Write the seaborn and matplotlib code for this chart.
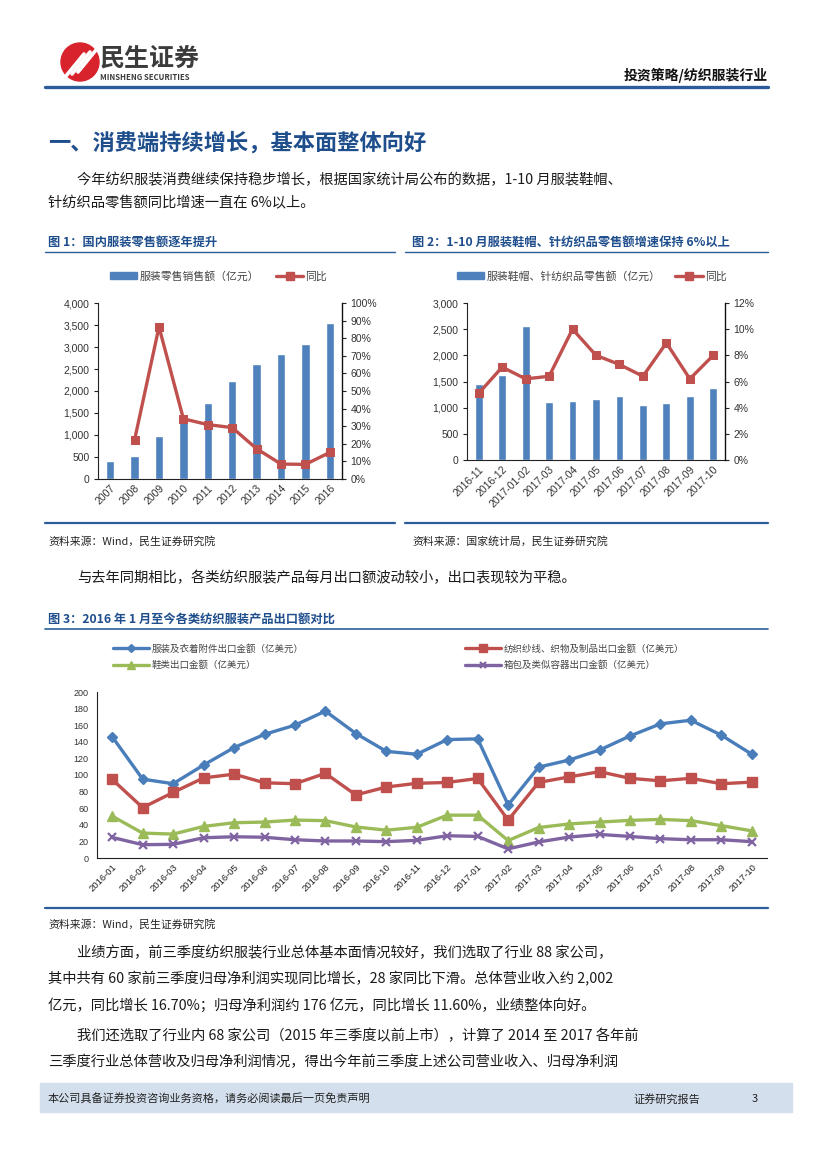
import numpy as np
import pandas as pd
import matplotlib
matplotlib.use('Agg')
import matplotlib.pyplot as plt
import seaborn as sns
from matplotlib.patches import Rectangle, Circle, Patch
from matplotlib.lines import Line2D
from matplotlib.ticker import FuncFormatter, MultipleLocator

# ---------------- data ----------------
years = ['2007', '2008', '2009', '2010', '2011', '2012', '2013', '2014', '2015', '2016']
retail_sales = [415, 528, 981, 1343, 1736, 2234, 2611, 2838, 3064, 3547]
retail_yoy = [np.nan, 22.3, 86.4, 34.2, 30.9, 29.2, 17.2, 8.5, 8.3, 15.1]

months2 = ['2016-11', '2016-12', '2017-01-02', '2017-03', '2017-04', '2017-05',
           '2017-06', '2017-07', '2017-08', '2017-09', '2017-10']
retail2 = [1460, 1630, 2570, 1100, 1120, 1160, 1230, 1060, 1080, 1230, 1385]
yoy2 = [5.1, 7.1, 6.2, 6.4, 10.0, 8.0, 7.3, 6.4, 8.95, 6.2, 8.0]

months3 = ['2016-01', '2016-02', '2016-03', '2016-04', '2016-05', '2016-06', '2016-07',
           '2016-08', '2016-09', '2016-10', '2016-11', '2016-12', '2017-01', '2017-02',
           '2017-03', '2017-04', '2017-05', '2017-06', '2017-07', '2017-08', '2017-09',
           '2017-10']
clothing = [146, 95, 89.5, 112, 133, 149, 160, 177, 150, 128.5, 125, 142.7, 143.5, 64,
            109.5, 118, 130, 147, 161.6, 166, 148, 125]
textile = [94.6, 60.7, 79, 96.5, 101, 90.6, 89.5, 102, 76, 85.5, 90, 91, 95.8, 45.7,
           91, 97.7, 104, 96, 93, 96, 89.5, 91.4]
shoes = [50.4, 30, 28.8, 38, 42.5, 43.3, 45.7, 45, 37.4, 33.5, 37, 51.6, 51.6, 21,
         36.7, 41, 43.3, 45.3, 46.5, 45, 39, 32.7]
bags = [24.8, 16, 16.5, 24.4, 25.6, 25, 22, 20.5, 20.5, 19.7, 21.3, 26.8, 26, 11,
        19.3, 25.2, 28.4, 26, 23.3, 22, 22, 19.7]
series3_names = ['服装及衣着附件出口金额（亿美元）', '纺织纱线、织物及制品出口金额（亿美元）',
                 '鞋类出口金额（亿美元）', '箱包及类似容器出口金额（亿美元）']

# ---------------- style ----------------
sns.set_style('white')
CJK = ['Noto Sans CJK SC', 'DejaVu Sans']
plt.rcParams['font.family'] = CJK
plt.rcParams['axes.unicode_minus'] = False
TICKF = ['Liberation Sans', 'DejaVu Sans']

BAR = '#4F81BD'
RED = '#C0504D'
BLUE3 = '#4A7EBB'
GREEN = '#9BBB59'
PURPLE = '#8064A2'
NAVY = '#1F4E8C'
LINEC = '#2A5D9A'

W, H = 827, 1169
fig = plt.figure(figsize=(8.27, 11.69), dpi=100)
page = fig.add_axes([0, 0, 1, 1], zorder=0)
page.set_xlim(0, W)
page.set_ylim(H, 0)
page.axis('off')


def T(x, y, s, size, color='#1a1a1a', weight='normal', ha='left'):
    page.text(x, y, s, fontsize=size, color=color, fontweight=weight, ha=ha,
              va='center', family=CJK)


def axrect(x0, y0, x1, y1):
    return [x0 / W, 1 - y1 / H, (x1 - x0) / W, (y1 - y0) / H]


# ---------------- header ----------------
page.add_patch(Circle((80, 62), 19, color='#D8232C'))
for k in range(3):
    page.plot([66 + 6 * k, 84 + 6 * k], [76 - 2 * k, 50 - 2 * k + 4], color='white',
              lw=2.6, solid_capstyle='round')
T(100, 59, '民生证券', 18, color='#3b3b3b', weight='bold')
T(100, 78, 'MINSHENG SECURITIES', 5.6, color='#3b3b3b', weight='bold')
T(768, 75, '投资策略/纺织服装行业', 10, color='#111111', weight='bold', ha='right')
page.plot([45, 768], [87, 87], color=LINEC, lw=2.4)

# ---------------- body text ----------------
T(48, 143, '一、消费端持续增长，基本面整体向好', 16, color=NAVY, weight='bold')
T(77, 180, '今年纺织服装消费继续保持稳步增长，根据国家统计局公布的数据，1-10 月服装鞋帽、', 10.3)
T(48, 203, '针纺织品零售额同比增速一直在 6%以上。', 10.3)

T(48, 242, '图 1：国内服装零售额逐年提升', 8.8, color=NAVY, weight='bold')
T(412, 242, '图 2：1-10 月服装鞋帽、针纺织品零售额增速保持 6%以上', 8.8, color=NAVY, weight='bold')
page.plot([45, 395], [252, 252], color=LINEC, lw=1.0)
page.plot([405, 768], [252, 252], color=LINEC, lw=1.0)
page.plot([45, 395], [523, 523], color=LINEC, lw=1.6)
page.plot([405, 768], [523, 523], color=LINEC, lw=1.6)
T(48, 541, '资料来源：Wind，民生证券研究院', 7.8, color='#222222')
T(412, 541, '资料来源：国家统计局，民生证券研究院', 7.8, color='#222222')

T(77, 578, '与去年同期相比，各类纺织服装产品每月出口额波动较小，出口表现较为平稳。', 10.3)
T(48, 619, '图 3：2016 年 1 月至今各类纺织服装产品出口额对比', 8.8, color=NAVY, weight='bold')
page.plot([45, 768], [629, 629], color=LINEC, lw=1.2)
page.plot([45, 768], [908, 908], color=LINEC, lw=1.6)
T(48, 924, '资料来源：Wind，民生证券研究院', 7.8, color='#222222')

T(77, 953, '业绩方面，前三季度纺织服装行业总体基本面情况较好，我们选取了行业 88 家公司，', 10.3)
T(48, 979, '其中共有 60 家前三季度归母净利润实现同比增长，28 家同比下滑。总体营业收入约 2,002', 10.3)
T(48, 1005, '亿元，同比增长 16.70%；归母净利润约 176 亿元，同比增长 11.60%，业绩整体向好。', 10.3)
T(77, 1036, '我们还选取了行业内 68 家公司（2015 年三季度以前上市），计算了 2014 至 2017 各年前', 10.3)
T(48, 1062, '三季度行业总体营收及归母净利润情况，得出今年前三季度上述公司营业收入、归母净利润', 10.3)

page.add_patch(Rectangle((40, 1083), 752, 29, color='#D3DFEC', zorder=0))
T(48, 1099, '本公司具备证券投资咨询业务资格，请务必阅读最后一页免责声明', 8, color='#222222')
T(633, 1099, '证券研究报告', 8, color='#222222')
T(752, 1099, '3', 8, color='#222222')


def style_axes(ax, n, fs):
    ax.set_xlim(-0.5, n - 0.5)
    ax.set_xticks(np.arange(-0.5, n, 1), minor=True)
    ax.tick_params(axis='x', which='major', length=0, pad=3)
    ax.tick_params(axis='x', which='minor', length=3, width=0.8, color='#222222', direction='out')
    ax.tick_params(axis='y', which='major', length=3, width=0.8, color='#222222',
                   direction='out', labelsize=fs, pad=3, labelcolor='#333333')
    for s in ['top', 'right']:
        ax.spines[s].set_visible(False)
    for s in ['left', 'bottom']:
        ax.spines[s].set_color('#222222')
        ax.spines[s].set_linewidth(0.8)
    ax.set_xlabel('')
    ax.set_ylabel('')


def style_right(axb, fs):
    for s in ['top', 'left', 'bottom']:
        axb.spines[s].set_visible(False)
    axb.spines['right'].set_color('#111111')
    axb.spines['right'].set_linewidth(1.0)
    axb.tick_params(axis='y', length=3, width=0.8, color='#222222', direction='out',
                    labelsize=fs, pad=3, labelcolor='#333333')
    axb.set_ylabel('')


# ---------------- chart 1 ----------------
ax1 = fig.add_axes(axrect(98, 303, 342, 479))
df1 = pd.DataFrame({'year': years, 'sales': retail_sales, 'yoy': retail_yoy})
sns.barplot(data=df1, x='year', y='sales', ax=ax1, color=BAR, width=0.34, saturation=1)
ax1.set_ylim(0, 4000)
ax1.yaxis.set_major_locator(MultipleLocator(500))
ax1.yaxis.set_major_formatter(FuncFormatter(lambda v, p: f'{v:,.0f}'))
style_axes(ax1, len(years), 7.5)
ax1.set_xticks(np.arange(len(years)))
ax1.set_xticklabels(years, rotation=45, ha='right', rotation_mode='anchor', fontsize=7.5,
                    color='#333333')
for lab in ax1.get_yticklabels() + ax1.get_xticklabels():
    lab.set_family(TICKF)
ax1b = ax1.twinx()
sns.lineplot(x=np.arange(len(years)), y=df1['yoy'], ax=ax1b, color=RED, lw=2.4, marker='s',
             markersize=5.5, markeredgecolor=RED)
ax1b.set_ylim(0, 100)
ax1b.set_xlim(-0.5, len(years) - 0.5)
ax1b.yaxis.set_major_locator(MultipleLocator(10))
ax1b.yaxis.set_major_formatter(FuncFormatter(lambda v, p: f'{v:.0f}%'))
style_right(ax1b, 7.5)
for lab in ax1b.get_yticklabels():
    lab.set_family(TICKF)

fig.legend([Patch(color=BAR), Line2D([0], [0], color=RED, lw=2.4, marker='s', ms=5.5)],
           ['服装零售销售额（亿元）', '同比'], loc='center left',
           bbox_to_anchor=(110 / W, 1 - 276 / H), ncol=2, frameon=False,
           prop={'family': CJK, 'size': 7.8}, labelcolor='#444444', handlelength=2.5,
           handletextpad=0.2, columnspacing=1.6, borderpad=0, borderaxespad=0)

# ---------------- chart 2 ----------------
ax2 = fig.add_axes(axrect(467, 303, 725, 460))
df2 = pd.DataFrame({'month': months2, 'sales': retail2, 'yoy': yoy2})
sns.barplot(data=df2, x='month', y='sales', ax=ax2, color=BAR, width=0.33, saturation=1)
ax2.set_ylim(0, 3000)
ax2.yaxis.set_major_locator(MultipleLocator(500))
ax2.yaxis.set_major_formatter(FuncFormatter(lambda v, p: f'{v:,.0f}'))
style_axes(ax2, len(months2), 7.5)
ax2.set_xticks(np.arange(len(months2)))
ax2.set_xticklabels(months2, rotation=45, ha='right', rotation_mode='anchor', fontsize=7.5,
                    color='#333333')
for lab in ax2.get_yticklabels() + ax2.get_xticklabels():
    lab.set_family(TICKF)
ax2b = ax2.twinx()
sns.lineplot(x=np.arange(len(months2)), y=df2['yoy'], ax=ax2b, color=RED, lw=2.4, marker='s',
             markersize=5.5, markeredgecolor=RED)
ax2b.set_ylim(0, 12)
ax2b.set_xlim(-0.5, len(months2) - 0.5)
ax2b.yaxis.set_major_locator(MultipleLocator(2))
ax2b.yaxis.set_major_formatter(FuncFormatter(lambda v, p: f'{v:.0f}%'))
style_right(ax2b, 7.5)
for lab in ax2b.get_yticklabels():
    lab.set_family(TICKF)

fig.legend([Patch(color=BAR), Line2D([0], [0], color=RED, lw=2.4, marker='s', ms=5.5)],
           ['服装鞋帽、针纺织品零售额（亿元）', '同比'], loc='center left',
           bbox_to_anchor=(457 / W, 1 - 276 / H), ncol=2, frameon=False,
           prop={'family': CJK, 'size': 7.8}, labelcolor='#444444', handlelength=2.5,
           handletextpad=0.2, columnspacing=1.4, borderpad=0, borderaxespad=0)

# ---------------- chart 3 ----------------
ax3 = fig.add_axes(axrect(97, 692, 767, 858))
df3 = pd.DataFrame({'month': months3, 'clothing': clothing, 'textile': textile,
                    'shoes': shoes, 'bags': bags})
xs = np.arange(len(months3))
specs = [('clothing', BLUE3, 'D', 5.0, 1.0), ('textile', RED, 's', 7.5, 1.0),
         ('shoes', GREEN, '^', 7.0, 1.0), ('bags', PURPLE, 'x', 6.0, 1.6)]
handles3 = []
for (col, c, m, ms, mew), name in zip(specs, series3_names):
    sns.lineplot(x=xs, y=df3[col], ax=ax3, color=c, lw=2.4, marker=m, markersize=ms,
                 markeredgecolor=c, markeredgewidth=mew, legend=False)
    handles3.append(Line2D([0], [0], color=c, lw=2.4, marker=m, ms=ms * 0.8,
                           markeredgecolor=c, markeredgewidth=mew))
ax3.set_ylim(0, 200)
ax3.yaxis.set_major_locator(MultipleLocator(20))
style_axes(ax3, len(months3), 6.5)
ax3.set_xticks(xs)
ax3.set_xticklabels(months3, rotation=45, ha='right', rotation_mode='anchor', fontsize=6.8,
                    color='#222222')
for lab in ax3.get_yticklabels() + ax3.get_xticklabels():
    lab.set_family(TICKF)

leg_kw = dict(loc='center left', frameon=False, prop={'family': CJK, 'size': 6.8},
              labelcolor='#444444', handlelength=3.8, handletextpad=0.3, labelspacing=0.75,
              borderpad=0, borderaxespad=0)
fig.legend([handles3[0], handles3[2]], [series3_names[0], series3_names[2]],
           bbox_to_anchor=(113 / W, 1 - 657 / H), **leg_kw)
fig.legend([handles3[1], handles3[3]], [series3_names[1], series3_names[3]],
           bbox_to_anchor=(465 / W, 1 - 657 / H), **leg_kw)

fig.savefig('out.png', dpi=100)
